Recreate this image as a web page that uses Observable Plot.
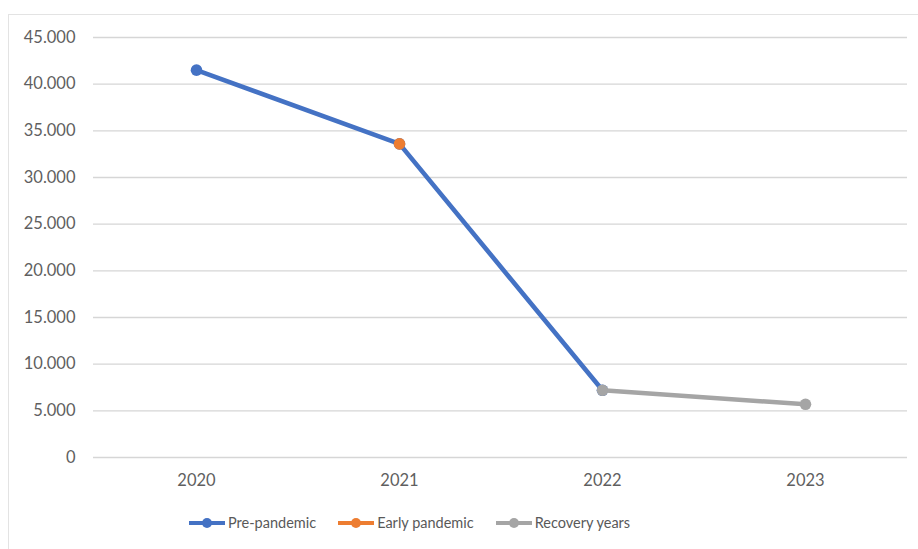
<!DOCTYPE html>
<html>
<head>
<meta charset="utf-8">
<script src="https://cdn.jsdelivr.net/npm/d3@7"></script>
<script src="https://cdn.jsdelivr.net/npm/@observablehq/plot@0.6"></script>
<style>
  html, body { margin: 0; padding: 0; background: #fff; }
  body { width: 918px; height: 549px; position: relative; overflow: hidden; font-family: Lato, "Open Sans", sans-serif; }
  #frame { position: absolute; left: 8px; top: 14px; width: 940px; height: 560px; border: 1px solid #e3e3e3; box-sizing: border-box; }
  #chart { position: absolute; left: 0; top: 0; }
  #legend { position: absolute; top: 512px; left: 189px; display: flex; gap: 22px; color: #595959; font-size: 14.5px; line-height: 22px; }
  .item { display: flex; align-items: center; }
  .sw { position: relative; width: 36px; height: 22px; margin-right: 3px; }
  .sw .ln { position: absolute; left: 0; right: 0; top: 9px; height: 4px; }
  .sw .pt { position: absolute; left: 13px; top: 6px; width: 10px; height: 10px; border-radius: 50%; }
</style>
</head>
<body>
<div id="frame"></div>
<div id="chart"></div>
<div id="legend"></div>
<script>
const years = ["2020", "2021", "2022", "2023"];
const prePandemic = [41500, 33600, 7200, null];
const earlyPandemic = [null, 33600, null, null];
const recoveryYears = [null, null, 7200, 5700];
const yTicks = [0, 5000, 10000, 15000, 20000, 25000, 30000, 35000, 40000, 45000];
const seriesNames = ["Pre-pandemic", "Early pandemic", "Recovery years"];
const seriesColors = ["#4472C4", "#ED7D31", "#A5A5A5"];

const seriesValues = [prePandemic, earlyPandemic, recoveryYears];
const rows = seriesNames.map((name, i) =>
  years.map((year, j) => ({series: name, year, value: seriesValues[i][j]}))
       .filter(d => d.value != null)
);

const fmt = d3.formatLocale({decimal: ",", thousands: ".", grouping: [3], currency: ["", "€"]}).format(",d");
const font = "Lato, 'Open Sans', sans-serif";

const marks = [
  Plot.ruleY(yTicks, {stroke: "#d6d6d6", strokeWidth: 1.4}),
  Plot.axisY({ticks: yTicks, tickFormat: fmt, tickSize: 0, tickPadding: 18, label: null, fontSize: 16.5, fill: "#5f5f5f"}),
  Plot.axisX({tickSize: 0, tickPadding: 17, label: null, fontSize: 16.5, fill: "#5f5f5f"})
];
[0, 1, 2].forEach(i => {
  marks.push(Plot.line(rows[i], {x: "year", y: "value", stroke: seriesColors[i], strokeWidth: 4.6, strokeLinejoin: "round", strokeLinecap: "round"}));
  marks.push(Plot.dot(rows[i], {x: "year", y: "value", r: 5.8, fill: seriesColors[i], stroke: "none"}));
});

const chart = Plot.plot({
  width: 918,
  height: 500,
  marginLeft: 93,
  marginRight: 11,
  marginTop: 37,
  marginBottom: 43,
  style: {fontFamily: font, background: "transparent", color: "#595959"},
  x: {type: "point", domain: years, padding: 0.5},
  y: {domain: [0, 45000]},
  marks
});
document.getElementById("chart").appendChild(chart);

const legend = document.getElementById("legend");
seriesNames.forEach((name, i) => {
  const item = document.createElement("div");
  item.className = "item";
  item.innerHTML = `<div class="sw"><div class="ln" style="background:${seriesColors[i]}"></div><div class="pt" style="background:${seriesColors[i]}"></div></div><span>${name}</span>`;
  legend.appendChild(item);
});
</script>
</body>
</html>
